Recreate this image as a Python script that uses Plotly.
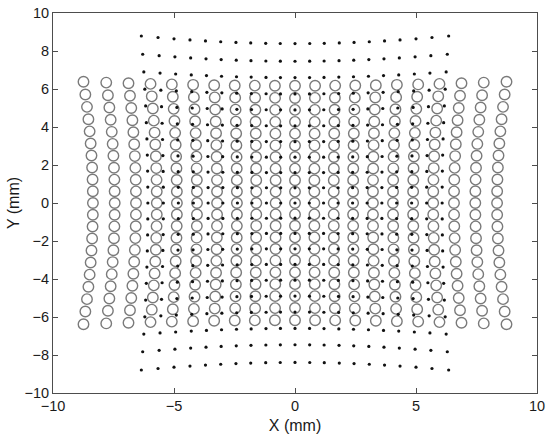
import numpy as np
import plotly.graph_objects as go

# Positions, from the centre line out to the edge (mm).
# Both grids are symmetric about x=0 and y=0, so one half is listed.

# open circles: 21 columns x 21 rows
circ_col_x_mid = [0, 0.80, 1.60, 2.40, 3.22, 4.05, 4.88, 5.71, 6.57, 7.45, 8.35]   # on the y=0 row
circ_col_x_top = [0, 0.83, 1.66, 2.49, 3.34, 4.21, 5.09, 5.97, 6.88, 7.80, 8.74]   # on the top/bottom row
circ_row_y_mid = [0, 0.60, 1.20, 1.81, 2.42, 3.03, 3.65, 4.27, 4.90, 5.53, 6.17]   # on the x=0 column
circ_row_y_edge = [0, 0.62, 1.24, 1.87, 2.50, 3.13, 3.77, 4.41, 5.06, 5.71, 6.38]  # on the outer columns

# dots: 21 columns x 21 rows
dot_col_x_mid = [0, 0.59, 1.18, 1.78, 2.38, 2.98, 3.59, 4.20, 4.82, 5.44, 6.08]
dot_col_x_top = [0, 0.61, 1.21, 1.83, 2.44, 3.07, 3.70, 4.34, 5.00, 5.66, 6.35]
dot_row_y_mid = [0, 0.80, 1.60, 2.41, 3.23, 4.06, 4.90, 5.74, 6.60, 7.46, 8.39]
dot_row_y_edge = [0, 0.84, 1.68, 2.52, 3.37, 4.23, 5.11, 5.99, 6.90, 7.83, 8.79]

x_ticks = [-10, -5, 0, 5, 10]
y_ticks = [-10, -8, -6, -4, -2, 0, 2, 4, 6, 8, 10]


def mirror(half):
    h = np.asarray(half, dtype=float)
    return np.concatenate([-h[:0:-1], h])


def grid(col_mid, col_top, row_mid, row_edge):
    """Bowed grid between the measured centre-line and edge-line positions."""
    xm, xt = mirror(col_mid), mirror(col_top)
    ym, ye = mirror(row_mid), mirror(row_edge)
    wy = (ym / ym.max()) ** 2
    wx = (xm / xm.max()) ** 2
    X = xm[None, :] + (xt - xm)[None, :] * wy[:, None]
    Y = ym[:, None] + (ye - ym)[:, None] * wx[None, :]
    return X.ravel(), Y.ravel()


cx, cy = grid(circ_col_x_mid, circ_col_x_top, circ_row_y_mid, circ_row_y_edge)
dx, dy = grid(dot_col_x_mid, dot_col_x_top, dot_row_y_mid, dot_row_y_edge)

FONT = "Liberation Sans, Arial, Helvetica, sans-serif"
AX = "#4d4d4d"
TXT = "#1a1a1a"

fig = go.Figure()
fig.add_trace(go.Scatter(
    x=cx, y=cy, mode="markers",
    marker=dict(symbol="circle-open", size=10.5, color="#7a7a7a", line=dict(width=1.4)),
    showlegend=False, hoverinfo="skip",
))
fig.add_trace(go.Scatter(
    x=dx, y=dy, mode="markers",
    marker=dict(symbol="circle", size=3.2, color="#111111"),
    showlegend=False, hoverinfo="skip",
))

axis = dict(
    showgrid=False, zeroline=False, automargin=False,
    showline=True, linecolor=AX, linewidth=1, mirror="ticks",
    ticks="inside", ticklen=5, tickcolor=AX,
    tickfont=dict(family=FONT, size=14.5, color=TXT),
)
fig.update_xaxes(
    range=[-10, 10], tickvals=x_ticks,
    title=dict(text="X (mm)", font=dict(family=FONT, size=16, color=TXT), standoff=6),
    **axis,
)
fig.update_yaxes(
    range=[-10, 10], tickvals=y_ticks,
    title=dict(text="Y (mm)", font=dict(family=FONT, size=16, color=TXT), standoff=0),
    **axis,
)
fig.update_layout(
    template="none",
    width=550, height=443,
    margin=dict(l=53, r=13, t=13, b=50, pad=0),
    paper_bgcolor="white", plot_bgcolor="white",
)

# page body has a default 8px margin; drop it so the figure sits at 0,0
fig.write_html(
    "out.html",
    config={"displayModeBar": False},
    post_script="document.body.style.margin = '0';",
)
